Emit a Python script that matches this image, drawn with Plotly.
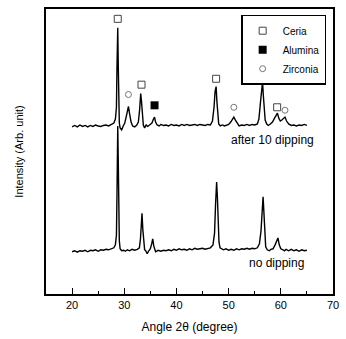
import plotly.graph_objects as go

# "no dipping" trace (angle 2θ, intensity in arbitrary units)
nodip_angle = [20.0, 20.5, 21.0, 21.5, 22.0, 22.5, 23.0, 23.5, 24.0, 24.5, 25.0, 25.5, 26.0, 26.5,
               27.0, 27.5, 28.0, 28.3, 28.5, 28.6, 28.75, 28.85, 28.95, 29.05, 29.2, 29.5, 29.9,
               30.2, 30.6, 31.0, 31.5, 32.0, 32.5, 32.9, 33.1, 33.25, 33.4, 33.55, 33.7, 33.9, 34.1,
               34.4, 34.7, 35.0, 35.25, 35.45, 35.65, 35.85, 36.0, 36.5, 37.0, 37.5, 38.0, 38.5,
               39.0, 39.5, 40.0, 40.5, 41.0, 41.5, 42.0, 42.5, 43.0, 43.5, 44.0, 44.5, 45.0, 45.5,
               46.0, 46.5, 47.0, 47.3, 47.5, 47.7, 47.85, 48.0, 48.15, 48.35, 48.6, 49.0, 49.5,
               50.0, 50.5, 51.0, 51.5, 52.0, 52.5, 53.0, 53.5, 54.0, 54.5, 55.0, 55.5, 55.9, 56.2,
               56.4, 56.6, 56.75, 56.9, 57.1, 57.4, 57.8, 58.1, 58.5, 58.9, 59.2, 59.45, 59.7,
               60.0, 60.4, 60.7, 61.0, 61.5, 62.0, 62.5, 63.0, 63.5, 64.0, 64.5, 65.0]
nodip_int = [43, 44, 42.5, 44, 43.5, 44.5, 43, 44.5, 44, 45, 43.5, 45, 44.5, 45.5,
             45, 46, 47, 50, 60, 100, 171, 135, 80, 54, 46, 44, 44.5,
             43.5, 45, 44, 45.5, 44.5, 45.5, 47, 56, 70, 82, 66, 51, 45, 44,
             41, 44, 46, 51, 56, 49, 44, 43, 44.5, 43.5, 44.5, 44, 45,
             44, 45.5, 44.5, 46, 45, 45.5, 44.5, 46, 45, 46.5, 45.5, 46, 46.5, 45.5,
             46.5, 47, 50, 62, 92, 114, 98, 70, 53, 47, 46, 45, 46,
             44.5, 45.5, 44.5, 46, 45, 46, 45.5, 46.5, 45.5, 46.5, 46, 47, 51, 64,
             82, 99, 84, 60, 48, 45, 44, 45.5, 46, 50, 54, 57, 50,
             46, 45, 44, 45.5, 44, 45.5, 44, 45, 43.5, 45, 44, 44.5]

# "after 10 dipping" trace
dip_angle = [20.0, 20.5, 21.0, 21.5, 22.0, 22.5, 23.0, 23.5, 24.0, 24.5, 25.0, 25.5, 26.0, 26.5,
             27.0, 27.5, 28.0, 28.3, 28.5, 28.6, 28.75, 28.85, 28.95, 29.05, 29.2, 29.5, 29.8,
             30.1, 30.4, 30.6, 30.8, 31.0, 31.3, 31.6, 32.0, 32.4, 32.7, 32.95, 33.15, 33.3,
             33.45, 33.65, 33.9, 34.2, 34.5, 34.9, 35.3, 35.6, 35.8, 36.0, 36.3, 36.7, 37.0, 37.5,
             38.0, 38.5, 39.0, 39.5, 40.0, 40.5, 41.0, 41.5, 42.0, 42.5, 43.0, 43.5, 44.0, 44.5,
             45.0, 45.5, 46.0, 46.5, 46.9, 47.2, 47.4, 47.6, 47.75, 47.9, 48.1, 48.4, 48.8, 49.2,
             49.6, 50.0, 50.4, 50.7, 51.0, 51.3, 51.7, 52.0, 52.5, 53.0, 53.5, 54.0, 54.5, 55.0,
             55.5, 55.8, 56.1, 56.3, 56.5, 56.65, 56.8, 57.0, 57.3, 57.6, 58.0, 58.4, 58.8, 59.1,
             59.35, 59.6, 59.9, 60.2, 60.5, 60.8, 61.1, 61.5, 62.0, 62.5, 63.0, 63.5, 64.0, 64.5,
             65.0]
dip_int = [170, 171.5, 170, 172, 170.5, 171.5, 170, 171.5, 170.5, 172, 171, 170.5, 171.5, 172,
           171, 172.5, 174, 178, 190, 230, 271, 232, 190, 174, 169, 167, 171,
           174, 181, 188, 191, 184, 175, 171, 170, 172, 175, 188, 204, 196,
           182, 172, 169, 172, 170.5, 172, 174, 178, 180, 175, 172, 171, 172.5, 171.5,
           172, 171, 172.5, 171.5, 172, 171, 172.5, 171.5, 172.5, 171.5, 172, 172.5, 171.5, 172.5,
           172, 171.5, 172.5, 172, 176, 190, 206, 211, 196, 180, 173, 171, 172, 171,
           172, 172.5, 175, 178, 180, 177, 173, 171, 172, 171.5, 172.5, 171.5, 172.5, 172,
           173, 178, 195, 210, 216, 202, 186, 177, 173, 171.5, 173, 175, 179, 182,
           184, 179, 176, 177, 179, 180, 176, 173, 171.5, 172, 171, 172, 171.5, 172.5,
           171.5]

# Phase markers above the "after 10 dipping" peaks
ceria_x = [28.75, 33.3, 47.6, 56.5, 59.3]
ceria_y = [280, 213, 219, 219, 190]
alumina_x = [35.8]
alumina_y = [192]
zirconia_x = [30.8, 51.0, 60.8]
zirconia_y = [203, 190, 187]

FONT = "Liberation Sans, Arial, sans-serif"

fig = go.Figure()
fig.add_trace(go.Scatter(x=nodip_angle, y=nodip_int, mode="lines",
                         line=dict(color="black", width=1.4), showlegend=False))
fig.add_trace(go.Scatter(x=dip_angle, y=dip_int, mode="lines",
                         line=dict(color="black", width=1.4), showlegend=False))
fig.add_trace(go.Scatter(x=ceria_x, y=ceria_y, mode="markers", name="Ceria",
                         marker=dict(symbol="square-open", size=7, color="#444",
                                     line=dict(width=1))))
fig.add_trace(go.Scatter(x=alumina_x, y=alumina_y, mode="markers", name="Alumina",
                         marker=dict(symbol="square", size=8, color="black")))
fig.add_trace(go.Scatter(x=zirconia_x, y=zirconia_y, mode="markers", name="Zirconia",
                         marker=dict(symbol="circle-open", size=6, color="#777",
                                     line=dict(width=1))))

fig.add_annotation(x=66.8, y=157, text="after 10 dipping", showarrow=False,
                   xanchor="right", yanchor="middle", font=dict(size=12, color="black", family=FONT))
fig.add_annotation(x=64.9, y=32, text="no dipping", showarrow=False,
                   xanchor="right", yanchor="middle", font=dict(size=12, color="black", family=FONT))

fig.update_layout(
    width=346, height=339,
    margin=dict(l=46, r=7, t=7, b=42),
    paper_bgcolor="white", plot_bgcolor="white",
    font=dict(family=FONT, color="black", size=11),
    legend=dict(x=0.68, y=0.98, xanchor="left", yanchor="top",
                bordercolor="black", borderwidth=1.5, bgcolor="white",
                font=dict(size=10), itemwidth=30, tracegroupgap=0),
)
fig.update_xaxes(range=[15, 70], tickvals=[20, 30, 40, 50, 60, 70],
                 ticks="inside", ticklen=6, tickwidth=1.2, tickcolor="black",
                 minor=dict(tickvals=[25, 35, 45, 55, 65], ticks="inside", ticklen=3,
                            tickcolor="black", tickwidth=1.2),
                 showline=True, linecolor="black", linewidth=1.5, mirror=True,
                 showgrid=False, zeroline=False,
                 tickfont=dict(size=11),
                 title=dict(text="Angle 2θ (degree)", font=dict(size=12), standoff=13))
fig.update_yaxes(range=[0, 290], showticklabels=False, ticks="",
                 showline=True, linecolor="black", linewidth=1.5, mirror=True,
                 showgrid=False, zeroline=False,
                 title=dict(text="Intensity (Arb. unit)", font=dict(size=11), standoff=18))

fig.write_html("out.html")
